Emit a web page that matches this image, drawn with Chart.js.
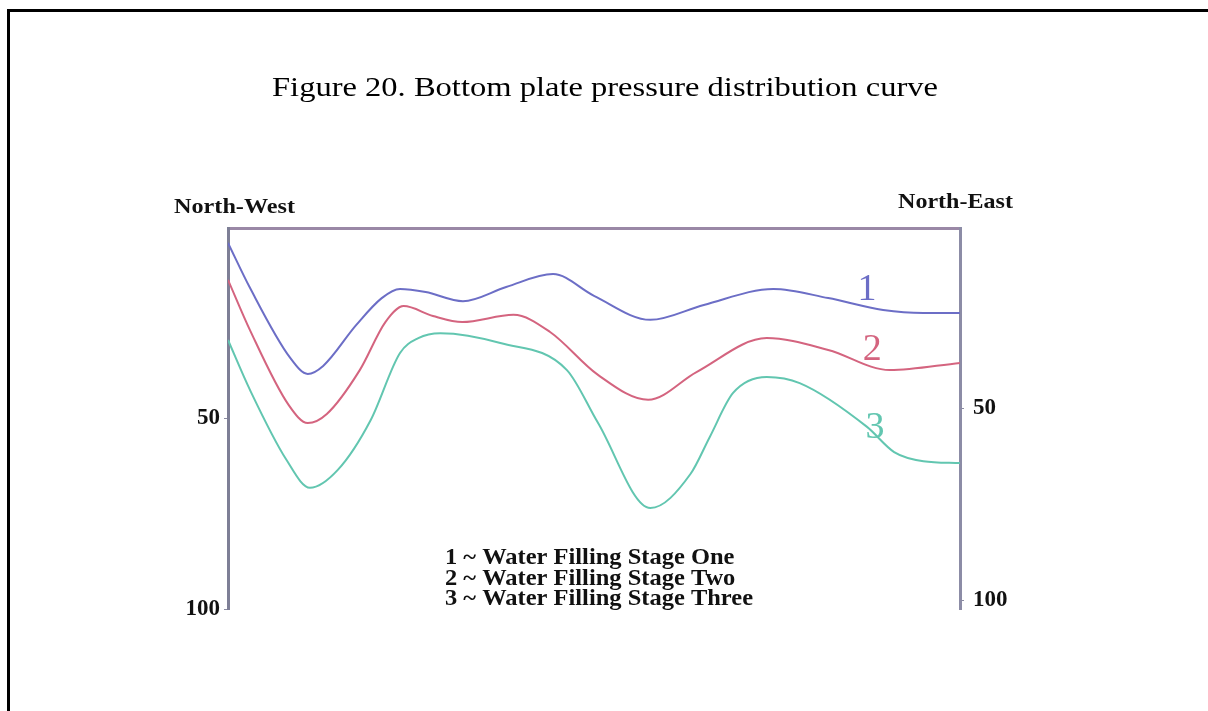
<!DOCTYPE html>
<html>
<head>
<meta charset="utf-8">
<script src="https://cdn.jsdelivr.net/npm/chart.js@4.4.0/dist/chart.umd.min.js"></script>
<style>
  html, body { margin: 0; padding: 0; background: #fff; }
  #frame { position: absolute; left: 7px; top: 9px; width: 1210px; height: 710px; border-left: 3px solid #000; border-top: 3px solid #000; }
  #wrap { position: absolute; left: 0; top: 0; width: 1208px; height: 711px; }
</style>
</head>
<body>
<div id="frame"></div>
<div id="wrap"><canvas id="myChart" width="1208" height="711"></canvas></div>
<script>
// distance along the plate (0 = North-West, 100 = North-East), pressure going down
let stageOneX = [0, 3, 8.5, 10.9, 13, 17.5, 21, 23.5, 27, 32.1, 38, 44.4, 50, 57.7, 65, 74.5, 82, 89.5, 95, 100];
let stageOneY = [3.9, 15.7, 34.1, 38.3, 36.2, 25.5, 18.4, 16, 16.8, 19.2, 15.5, 12.1, 17.8, 24.1, 20.2, 16, 18.4, 21.5, 22.3, 22.3];

let stageTwoX = [0, 3, 8.3, 10.9, 13.5, 18, 21.5, 24, 28, 32, 39, 44, 50.5, 57.4, 64, 73.6, 82, 90.4, 100];
let stageTwoY = [13.6, 26.8, 46.5, 51.2, 48.8, 37.3, 24.7, 20.5, 23.1, 24.7, 22.8, 27.3, 38.5, 45.1, 37.8, 28.9, 32, 37.3, 35.4];

let stageThreeX = [0, 3, 8, 11.2, 15, 19.5, 23.5, 26, 29, 37.2, 46.3, 50.5, 57.7, 63.2, 65.8, 69, 73.6, 78.1, 87.3, 91, 95, 100];
let stageThreeY = [29.4, 42.5, 60.9, 68.2, 63.5, 50.4, 32.8, 28.9, 27.6, 30.2, 37.3, 51, 73.5, 64.5, 54.9, 43.3, 39.1, 40.7, 52.2, 58.8, 61.2, 61.7];

let yTicks = [50, 100];
let legendLines = ["1 ~ Water Filling Stage One", "2 ~ Water Filling Stage Two", "3 ~ Water Filling Stage Three"];
let curveNames = ["1", "2", "3"];
let curveNameX = [87.3, 88, 88.4];
let curveNameY = [19, 34.6, 55.1];
let colors = ['#6c6ec6', '#d4647f', '#62c6b0'];

function toPoints(xs, ys) {
    return xs.map((x, i) => ({x: x, y: ys[i]}));
}

let serif = '"Liberation Serif", "Times New Roman", serif';

// draw text squeezed/stretched horizontally to a given width
function fillFit(ctx, text, x, y, width, align) {
    let w = ctx.measureText(text).width;
    let k = width / w;
    ctx.save();
    ctx.textAlign = 'left';
    let left = align === 'center' ? x - width / 2 : x;
    ctx.translate(left, y);
    ctx.scale(k, 1);
    ctx.fillText(text, 0, 0);
    ctx.restore();
}

let textPlugin = {
    id: 'texts',
    afterDraw(chart) {
        let ctx = chart.ctx;
        let xs = chart.scales.x, ys = chart.scales.y;
        ctx.save();
        ctx.fillStyle = '#000';
        ctx.textBaseline = 'alphabetic';
        ctx.font = '28px ' + serif;
        fillFit(ctx, 'Figure 20. Bottom plate pressure distribution curve', 605, 96, 666, 'center');

        ctx.font = 'bold 22px ' + serif;
        ctx.fillStyle = '#111';
        fillFit(ctx, 'North-West', 174, 213, 121, 'left');
        fillFit(ctx, 'North-East', 898, 208, 115, 'left');

        ctx.font = 'bold 23px ' + serif;
        let k = 308 / ctx.measureText(legendLines[2]).width;
        legendLines.forEach((t, i) => {
            fillFit(ctx, t, 445, 564 + i * 20.5, ctx.measureText(t).width * k, 'left');
        });

        ctx.font = '38px ' + serif;
        ctx.textAlign = 'center';
        curveNames.forEach((t, i) => {
            ctx.fillStyle = colors[i];
            ctx.fillText(t, xs.getPixelForValue(curveNameX[i]), ys.getPixelForValue(curveNameY[i]));
        });
        ctx.restore();
    }
};

let tickFont = {family: serif, weight: 'bold', size: 23};

let ctx = document.getElementById('myChart');
let myChart = new Chart(ctx, {
    type: 'line',
    data: {
        datasets: [{
            label: 'Water Filling Stage One',
            data: toPoints(stageOneX, stageOneY),
            borderColor: colors[0]
        }, {
            label: 'Water Filling Stage Two',
            data: toPoints(stageTwoX, stageTwoY),
            borderColor: colors[1]
        }, {
            label: 'Water Filling Stage Three',
            data: toPoints(stageThreeX, stageThreeY),
            borderColor: colors[2]
        }]
    },
    options: {
        responsive: false,
        animation: false,
        layout: {padding: {left: 0, right: 0, top: 0, bottom: 102}},
        elements: {
            line: {borderWidth: 2, cubicInterpolationMode: 'monotone'},
            point: {radius: 0}
        },
        plugins: {legend: {display: false}, tooltip: {enabled: false}},
        scales: {
            x: {
                type: 'linear', position: 'top', min: 0, max: 100,
                ticks: {display: false},
                grid: {display: false},
                border: {display: true, color: '#9a88a6', width: 3},
                afterFit: s => { s.height = 228; }
            },
            y: {
                position: 'left', reverse: true, min: 0, max: 100,
                afterBuildTicks: s => { s.ticks = yTicks.map(v => ({value: v})); },
                ticks: {font: tickFont, color: '#111', padding: 4},
                grid: {drawOnChartArea: false, tickLength: 4, color: '#8a8aa0'},
                border: {display: true, color: '#7e7f96', width: 3},
                afterFit: s => { s.width = 228; }
            },
            y2: {
                position: 'right', reverse: true, min: 3.1, max: 102.3,
                afterBuildTicks: s => { s.ticks = yTicks.map(v => ({value: v})); },
                ticks: {font: tickFont, color: '#111', padding: 9},
                grid: {drawOnChartArea: false, tickLength: 4, color: '#8a8aa0'},
                border: {display: true, color: '#8c8ca6', width: 3},
                afterFit: s => { s.width = 248; }
            }
        }
    },
    plugins: [textPlugin]
});
</script>
</body>
</html>
